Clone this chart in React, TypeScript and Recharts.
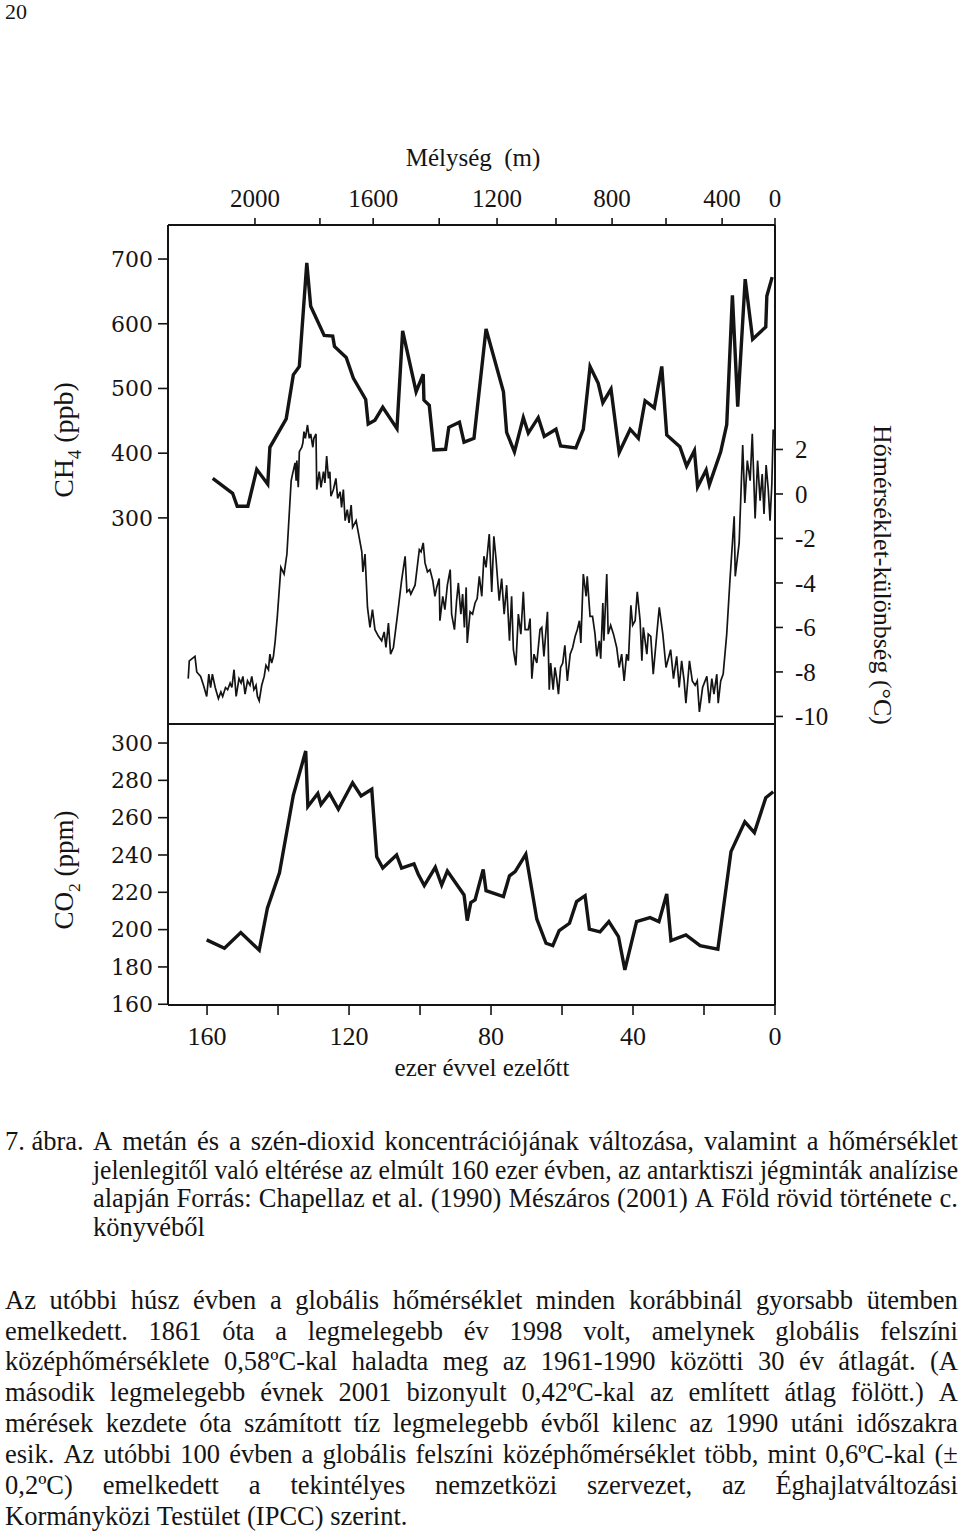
import React, { useLayoutEffect, useRef, useState } from "react";
import { LineChart, Line, XAxis, YAxis } from "recharts";

// methane (ppb) vs. thousand years before present
const ch4Age = [158.4, 152.8, 151.5, 148.5, 146.0, 142.9, 142.3, 137.7, 135.7, 134.0, 131.9, 130.8, 127.0, 124.6, 124.1, 120.8, 118.8, 115.3, 114.6, 112.7, 110.5, 106.5, 104.9, 101.1, 99.1, 98.9, 97.4, 96.1, 92.8, 91.9, 88.9, 87.6, 84.8, 81.4, 76.5, 75.6, 73.4, 70.9, 69.5, 66.7, 65.0, 61.7, 60.4, 56.1, 54.0, 52.1, 49.8, 48.5, 46.2, 43.9, 40.8, 38.5, 36.6, 34.0, 31.9, 30.5, 26.8, 24.9, 22.7, 21.8, 19.4, 18.5, 15.3, 13.6, 12.0, 10.5, 8.4, 6.3, 2.6, 2.3, 0.8];
const ch4Ppb = [361, 338, 318, 318, 375, 352, 409, 453, 521, 534, 694, 627, 582, 581, 565, 548, 516, 483, 445, 451, 471, 438, 589, 495, 522, 482, 474, 405, 406, 440, 448, 417, 423, 592, 495, 432, 402, 455, 431, 455, 426, 437, 411, 408, 437, 534, 508, 478, 499, 401, 437, 423, 481, 470, 534, 428, 410, 380, 404, 348, 374, 351, 402, 444, 644, 472, 669, 576, 595, 643, 672];

// carbon dioxide (ppm)
const co2Age = [160.1, 155.1, 150.5, 145.3, 143.0, 139.6, 135.7, 132.2, 131.6, 128.8, 127.9, 125.5, 123.0, 119.0, 116.6, 113.6, 112.2, 110.5, 106.6, 105.2, 101.7, 100.5, 98.8, 95.7, 93.9, 92.3, 87.6, 86.7, 85.7, 84.5, 82.2, 81.4, 76.5, 74.8, 73.2, 70.2, 67.1, 64.5, 62.6, 60.8, 57.9, 55.9, 53.5, 52.3, 49.3, 46.8, 44.1, 42.3, 39.0, 35.2, 32.7, 30.5, 29.3, 25.1, 21.1, 16.1, 12.4, 8.5, 5.8, 2.6, 0.5];
const co2Ppm = [194.5, 190, 198.4, 189, 211.5, 230.5, 272, 295.7, 266, 273, 267, 273, 264.5, 278.7, 271.6, 275.2, 239, 233, 240, 233, 235.2, 229.7, 223.6, 233.4, 223.9, 231.4, 218.6, 204.8, 214.5, 215.9, 232.3, 220.9, 217.7, 228.8, 231.1, 240.4, 205.6, 192.7, 191.4, 199.5, 203.4, 215, 218.2, 200.2, 198.8, 204.3, 196.3, 178.4, 204.3, 206.4, 204.3, 219.1, 194.1, 197.2, 191.4, 189.5, 241.8, 257.8, 252, 270.7, 273.9];

// temperature difference from today (°C)
const tempAge = [
  165.3, 165.0, 163.4, 162.9, 161.8, 161.0, 160.1, 159.5, 159.0, 158.5,
  157.7, 156.8, 156.1, 155.6, 154.8, 154.2, 153.5, 153.0, 152.4, 151.8,
  151.0, 150.4, 149.9, 149.3, 148.6, 147.9, 147.4, 146.8, 146.2, 145.8,
  145.3, 144.6, 143.9, 143.4, 142.7, 142.3, 141.8, 141.3, 140.8, 140.2,
  139.2, 138.3, 137.5, 136.3, 135.9, 135.2, 134.9, 134.7, 134.3, 134.0,
  133.3, 133.0, 132.7, 132.3, 131.7, 131.2, 130.8, 130.2, 129.9, 129.3,
  129.1, 128.4, 127.9, 127.2, 126.8, 126.3, 125.8, 125.4, 125.1, 124.4,
  123.7, 123.2, 122.5, 122.1, 121.6, 121.1, 120.5, 120.0, 119.4, 119.0,
  118.0, 116.4, 116.1, 115.5, 114.8, 114.1, 113.4, 112.7, 111.7, 110.8,
  110.1, 109.6, 108.9, 108.3, 107.5, 106.4, 105.2, 104.2, 103.7, 103.0,
  102.6, 101.4, 100.2, 99.7, 99.1, 98.6, 97.9, 97.2, 96.4, 95.8,
  95.3, 94.6, 94.4, 93.6, 93.0, 92.3, 91.5, 91.1, 90.3, 89.7,
  89.2, 88.5, 88.0, 87.5, 87.0, 86.7, 85.9, 85.2, 84.5, 83.9,
  83.3, 82.6, 82.0, 81.4, 80.5, 79.8, 79.2, 78.6, 77.7, 77.0,
  76.3, 75.6, 74.8, 74.2, 73.7, 73.0, 72.3, 71.6, 70.9, 70.4,
  69.5, 69.0, 68.5, 67.9, 67.1, 66.2, 65.7, 65.1, 64.1, 63.6,
  63.2, 62.5, 62.0, 61.5, 61.0, 60.4, 59.8, 59.2, 58.5, 57.7,
  57.0, 56.3, 55.7, 55.1, 54.7, 54.0, 53.2, 52.9, 52.1, 51.4,
  50.7, 50.2, 49.5, 49.1, 48.5, 48.2, 47.4, 47.0, 46.3, 45.5,
  44.6, 43.9, 43.2, 42.5, 41.8, 41.3, 40.6, 40.1, 39.4, 38.8,
  38.0, 37.5, 37.1, 36.1, 35.7, 35.0, 34.3, 33.3, 32.6, 31.6,
  30.7, 29.4, 28.6, 27.7, 27.0, 26.3, 25.6, 25.1, 24.1, 23.3,
  22.5, 21.9, 21.3, 20.4, 19.2, 18.5, 17.8, 17.2, 16.4, 16.0,
  15.3, 14.6, 13.6, 12.7, 11.5, 11.2, 10.1, 9.1, 8.5, 7.8,
  7.0, 6.4, 5.6, 4.9, 4.2, 3.6, 3.1, 2.5, 1.9, 1.4,
  0.9, 0.5,
];
const tempDiff = [
  -8.3, -7.5, -7.3, -8.0, -8.2, -8.6, -9.1, -8.1, -8.7, -8.1,
  -8.7, -9.2, -8.9, -9.1, -8.7, -8.8, -8.5, -8.7, -7.9, -9.1,
  -8.3, -8.5, -8.2, -9.0, -8.4, -8.6, -8.2, -8.8, -8.6, -9.1,
  -9.3, -8.6, -8.2, -7.7, -7.9, -7.2, -7.6, -7.3, -6.6, -5.5,
  -3.3, -3.6, -2.7, 0.6, 0.9, 1.4, 0.6, 1.5, 0.3, 1.9,
  2.1, 2.3, 2.8, 2.5, 3.1, 2.5, 2.7, 2.1, 2.5, 2.7,
  0.2, 1.0, 0.3, 1.0, 0.5, 1.7, 0.7, 1.0, -0.1, 0.2,
  0.7, -0.2, 0.1, -0.6, 0.2, -1.2, -0.7, -1.3, -0.5, -1.5,
  -1.2, -2.6, -3.5, -2.7, -5.1, -6.0, -5.2, -6.1, -6.4, -6.6,
  -6.2, -6.9, -5.8, -7.2, -6.9, -5.5, -3.9, -2.8, -4.4, -4.3,
  -4.5, -4.1, -2.5, -2.6, -2.2, -3.1, -3.5, -3.4, -3.9, -4.6,
  -4.2, -3.8, -5.7, -4.6, -5.2, -4.1, -3.4, -5.4, -6.1, -4.8,
  -4.0, -5.4, -4.5, -6.0, -4.2, -6.7, -5.3, -5.4, -4.9, -4.7,
  -3.7, -4.6, -2.8, -3.3, -1.8, -4.4, -1.9, -2.9, -4.8, -3.8,
  -5.4, -4.1, -6.6, -4.6, -7.0, -7.7, -5.4, -6.3, -4.4, -6.1,
  -6.1, -5.6, -8.3, -7.2, -7.6, -6.1, -6.0, -7.3, -5.3, -8.8,
  -7.6, -8.8, -7.8, -8.3, -9.0, -7.8, -7.6, -6.8, -8.4, -7.2,
  -6.9, -6.4, -6.1, -5.7, -6.7, -3.6, -4.6, -3.7, -5.5, -5.5,
  -6.3, -7.3, -6.6, -7.4, -4.9, -6.6, -3.6, -6.3, -5.9, -6.3,
  -6.9, -7.8, -7.2, -8.4, -7.2, -7.5, -5.0, -5.9, -5.7, -4.4,
  -5.7, -7.5, -6.0, -7.2, -6.3, -6.4, -8.1, -6.3, -5.1, -6.3,
  -7.8, -7.0, -8.3, -7.3, -8.7, -7.5, -8.4, -9.4, -7.5, -8.4,
  -8.6, -8.4, -9.8, -8.7, -8.2, -9.4, -8.3, -9.0, -8.1, -9.4,
  -8.4, -8.1, -6.3, -3.9, -1.0, -3.7, -2.2, 2.2, -0.4, 1.5,
  0.6, 2.7, -1.1, 1.5, -0.3, 0.9, -0.9, 1.3, 0.2, -1.2,
  0.4, 2.9,
];

// depth scale on top: depth (m) and the age it sits at
const depthLabels = [2000, 1800, 1600, 1400, 1200, 1000, 800, 600, 400, 0];
const depthAges = [146.5, 128.2, 113.2, 94.6, 78.3, 61.7, 45.9, 30.7, 14.9, 0];

const ageTicks = [0, 20, 40, 60, 80, 100, 120, 140, 160];
const ch4Ticks = [300, 400, 500, 600, 700];
const tempTicks = [-10, -8, -6, -4, -2, 0, 2];
const co2Ticks = [160, 180, 200, 220, 240, 260, 280, 300];

const AGE_DOMAIN = [0, 171];
const CH4_DOMAIN = [-18.5, 752.6];
const TEMP_DOMAIN = [-10.34, 12.09];
const CO2_DOMAIN = [159.6, 310.2];

const captionLines = [
  "A metán és a szén-dioxid koncentrációjának változása, valamint a hőmérséklet",
  "jelenlegitől való eltérése az elmúlt 160 ezer évben, az antarktiszi jégminták analízise",
  "alapján Forrás: Chapellaz et al. (1990) Mészáros (2001) A Föld rövid története c.",
  "könyvéből",
];
const bodyLines = [
  "Az utóbbi húsz évben a globális hőmérséklet minden korábbinál gyorsabb ütemben",
  "emelkedett. 1861 óta a legmelegebb év 1998 volt, amelynek globális felszíni",
  "középhőmérséklete 0,58ºC-kal haladta meg az 1961-1990 közötti 30 év átlagát. (A",
  "második legmelegebb évnek 2001 bizonyult 0,42ºC-kal az említett átlag fölött.) A",
  "mérések kezdete óta számított tíz legmelegebb évből kilenc az 1990 utáni időszakra",
  "esik. Az utóbbi 100 évben a globális felszíni középhőmérséklet több, mint 0,6ºC-kal (±",
  "0,2ºC) emelkedett a tekintélyes nemzetközi szervezet, az Éghajlatváltozási",
  "Kormányközi Testület (IPCC) szerint.",
];

const ch4Data = ch4Age.map((age, i) => ({ age, ch4: ch4Ppb[i] }));
const co2Data = co2Age.map((age, i) => ({ age, co2: co2Ppm[i] }));
const tempData = tempAge.map((age, i) => ({ age, t: tempDiff[i] }));

const INK = "#141414";
const SERIF = "'Liberation Serif', 'Times New Roman', serif";
const WIDE = "'DejaVu Serif', serif";
const axisLine = { stroke: INK, strokeWidth: 2 };
const tickLine = { stroke: INK, strokeWidth: 1.6 };

const fmtDepth = (v: number) => {
  const d = depthLabels[depthAges.indexOf(v)];
  return d % 400 === 0 ? String(d) : "";
};

function Title({ x, y, rotate = 0, size = 26, children }: any) {
  return (
    <div
      style={{
        position: "absolute",
        left: x,
        top: y,
        transform: `translate(-50%, -50%) rotate(${rotate}deg)`,
        fontSize: size,
        lineHeight: 1,
        whiteSpace: "nowrap",
      }}
    >
      {children}
    </div>
  );
}

// one printed line; justified lines spread their words, too-long ones are squeezed
function TextLine({ text, left, top, width, justify }: any) {
  const probe = useRef<HTMLSpanElement>(null);
  const [natural, setNatural] = useState(0);
  useLayoutEffect(() => {
    if (probe.current) setNatural(probe.current.offsetWidth);
  }, [text]);

  const style: React.CSSProperties = {
    position: "absolute",
    left,
    top,
    width,
    fontSize: 26.5,
    lineHeight: "30px",
    whiteSpace: "nowrap",
  };
  const probeEl = (
    <span ref={probe} style={{ position: "absolute", visibility: "hidden", whiteSpace: "nowrap" }}>
      {text}
    </span>
  );
  if (natural > width) {
    return (
      <div style={style}>
        {probeEl}
        <span style={{ display: "inline-block", transform: `scaleX(${width / natural})`, transformOrigin: "0 0" }}>
          {text}
        </span>
      </div>
    );
  }
  if (!justify) {
    return (
      <div style={style}>
        {probeEl}
        {text}
      </div>
    );
  }
  return (
    <div style={{ ...style, display: "flex", justifyContent: "space-between" }}>
      {probeEl}
      {text.split(" ").map((w: string, i: number) => (
        <span key={i}>{w}</span>
      ))}
    </div>
  );
}

export default function App() {
  return (
    <div
      style={{
        position: "absolute",
        left: 0,
        top: 0,
        width: 960,
        height: 1533,
        background: "#fff",
        color: INK,
        fontFamily: SERIF,
        overflow: "hidden",
      }}
    >
      <div style={{ position: "absolute", left: 5, top: 1, fontSize: 22, lineHeight: 1 }}>20</div>

      <Title x={473} y={157} size={25}>Mélység&nbsp;&nbsp;(m)</Title>

      <div style={{ position: "absolute", left: 0, top: 0 }}>
        <LineChart width={960} height={740} margin={{ top: 175, right: 125, bottom: 16, left: 108 }}>
          <XAxis
            xAxisId="depth"
            orientation="top"
            type="number"
            dataKey="age"
            domain={AGE_DOMAIN}
            reversed
            allowDataOverflow
            ticks={depthAges}
            interval={0}
            tickFormatter={fmtDepth}
            height={50}
            tickSize={7}
            tickMargin={11}
            axisLine={axisLine}
            tickLine={tickLine}
            tick={{ fontSize: 25, fontFamily: SERIF, fill: INK }}
          />
          <YAxis
            yAxisId="ch4"
            orientation="left"
            type="number"
            domain={CH4_DOMAIN}
            allowDataOverflow
            ticks={ch4Ticks}
            interval={0}
            width={60}
            tickSize={10}
            tickMargin={5}
            axisLine={axisLine}
            tickLine={tickLine}
            tick={{ fontSize: 22, fontFamily: WIDE, fill: INK }}
          />
          <YAxis
            yAxisId="temp"
            orientation="right"
            type="number"
            domain={TEMP_DOMAIN}
            allowDataOverflow
            ticks={tempTicks}
            interval={0}
            width={60}
            tickSize={8}
            tickMargin={12}
            axisLine={axisLine}
            tickLine={tickLine}
            tick={{ fontSize: 25, fontFamily: SERIF, fill: INK }}
          />
          <Line
            xAxisId="depth"
            yAxisId="ch4"
            data={ch4Data}
            dataKey="ch4"
            type="linear"
            stroke={INK}
            strokeWidth={3.4}
            strokeLinejoin="miter"
            dot={false}
            isAnimationActive={false}
          />
          <Line
            xAxisId="depth"
            yAxisId="temp"
            data={tempData}
            dataKey="t"
            type="linear"
            stroke={INK}
            strokeWidth={1.7}
            dot={false}
            isAnimationActive={false}
          />
        </LineChart>
      </div>

      <div style={{ position: "absolute", left: 0, top: 700 }}>
        <LineChart width={960} height={400} margin={{ top: 24, right: 125, bottom: 15, left: 108 }}>
          <XAxis
            xAxisId="time"
            orientation="bottom"
            type="number"
            dataKey="age"
            domain={AGE_DOMAIN}
            reversed
            allowDataOverflow
            ticks={ageTicks}
            interval={0}
            tickFormatter={(v: number) => (v % 40 === 0 ? String(v) : "")}
            height={80}
            tickSize={10}
            tickMargin={12}
            axisLine={axisLine}
            tickLine={tickLine}
            tick={{ fontSize: 26, fontFamily: SERIF, fill: INK }}
          />
          <XAxis
            xAxisId="inner"
            orientation="top"
            mirror
            type="number"
            domain={AGE_DOMAIN}
            reversed
            allowDataOverflow
            ticks={ageTicks}
            interval={0}
            tickFormatter={() => ""}
            height={20}
            tickSize={7}
            axisLine={axisLine}
            tickLine={tickLine}
          />
          <YAxis
            yAxisId="co2"
            orientation="left"
            type="number"
            domain={CO2_DOMAIN}
            allowDataOverflow
            ticks={co2Ticks}
            interval={0}
            width={60}
            tickSize={10}
            tickMargin={5}
            axisLine={axisLine}
            tickLine={tickLine}
            tick={{ fontSize: 22, fontFamily: WIDE, fill: INK }}
          />
          <YAxis
            yAxisId="edge"
            orientation="right"
            type="number"
            domain={CO2_DOMAIN}
            width={60}
            tick={false}
            tickLine={false}
            axisLine={axisLine}
          />
          <Line
            xAxisId="time"
            yAxisId="co2"
            data={co2Data}
            dataKey="co2"
            type="linear"
            stroke={INK}
            strokeWidth={3.4}
            strokeLinejoin="miter"
            dot={false}
            isAnimationActive={false}
          />
        </LineChart>
      </div>

      <Title x={482} y={1067} size={25}>ezer évvel ezelőtt</Title>
      <Title x={67} y={440} rotate={-90} size={28}>
        CH<span style={{ fontSize: "0.65em", verticalAlign: "-0.4em" }}>4</span> (ppb)
      </Title>
      <Title x={67} y={870} rotate={-90} size={27}>
        CO<span style={{ fontSize: "0.65em", verticalAlign: "-0.4em" }}>2</span> (ppm)
      </Title>
      <Title x={882} y={575} rotate={90} size={26}>
        Hőmérséklet-különbség (°C)
      </Title>

      <div style={{ position: "absolute", left: 5, top: 1126, fontSize: 26.5, lineHeight: "30px" }}>7. ábra.</div>
      {captionLines.map((t, i) => (
        <TextLine key={t} text={t} left={93} top={[1126, 1155, 1183, 1212][i]} width={865} justify={i < 3} />
      ))}
      {bodyLines.map((t, i) => (
        <TextLine
          key={t}
          text={t}
          left={5}
          top={[1285, 1316, 1346, 1377, 1408, 1439, 1470, 1501][i]}
          width={953}
          justify={i < 7}
        />
      ))}
    </div>
  );
}
